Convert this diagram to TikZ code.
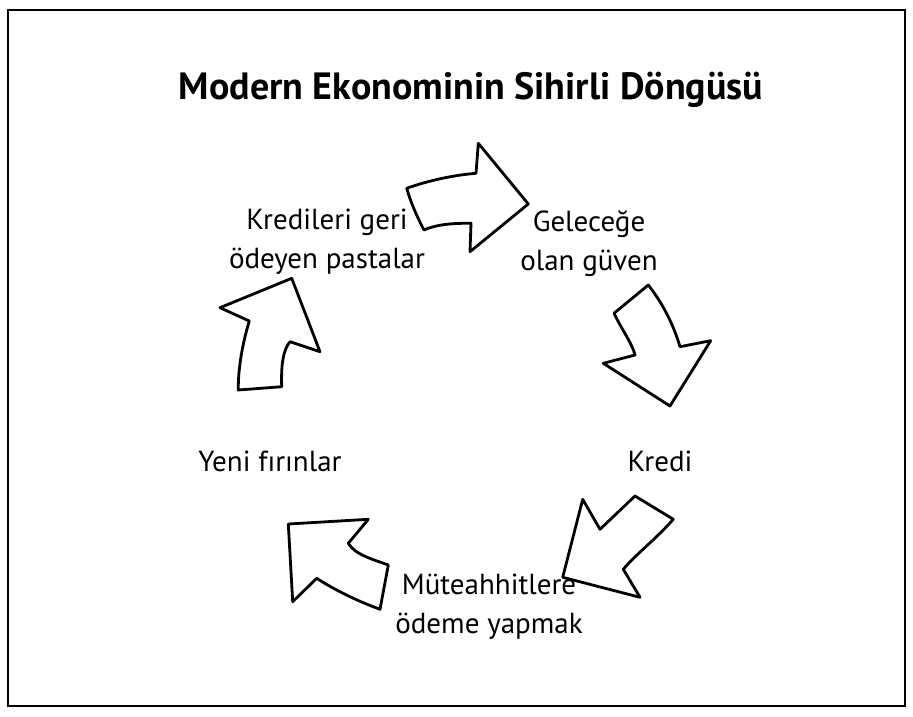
\documentclass[tikz,border=0pt]{standalone}
\usepackage{fontspec}
\setmainfont{PT Sans}
\usepackage{tikz}

\begin{document}
\begin{tikzpicture}[
  x=1pt, y=-1pt,
  every node/.style={font=\fontsize{29}{39}\selectfont},
  lbl/.style={align=center, inner sep=0pt},
  ttl/.style={font=\fontsize{38}{44}\selectfont\bfseries, inner sep=0pt},
  bigarr/.style={draw, line width=2.8pt, line join=round, fill=white}
]
  \useasboundingbox (0,0) rectangle (913,716);
  \draw[line width=2.8pt] (8,10) rectangle (905,706);

  % the five block arrows of the cycle
  \draw[bigarr] (406.7,188.3) .. controls (430,180) and (455,175) .. (476,173.3) -- (478.3,143.3) -- (528.3,204) -- (470,251.7) -- (471,223.3) .. controls (450,223) and (435,225) .. (424,230) .. controls (416,215) and (410,200) .. cycle;
  \draw[bigarr] (648.3,285) -- (614,313.3) .. controls (622,330) and (632,343) .. (635,355) -- (603.3,363.3) -- (670,406) -- (710.7,340.7) -- (680,346.7) .. controls (672,320) and (660,300) .. cycle;
  \draw[bigarr] (582.7,499.3) -- (600,529.3) -- (635,496) -- (673.3,519.3) .. controls (655,540) and (635,555) .. (623.3,569.3) -- (640,597.3) -- (562.7,577.3) -- cycle;
  \draw[bigarr] (288.3,524) -- (368.3,519.3) -- (348.3,543.3) .. controls (355,555) and (375,560) .. (388.3,565) -- (380,609.3) .. controls (355,600) and (335,590) .. (316.7,578.3) -- (292.7,601.7) -- cycle;
  \draw[bigarr] (291.7,278.3) -- (220,307.7) -- (249.3,321) .. controls (242,345) and (238,370) .. (238.3,390) -- (281.7,386.7) .. controls (281,365) and (283,350) .. (290,341.7) -- (320,351.7) -- cycle;

  \node[ttl] (title) at (471,90) {Modern Ekonominin Sihirli Döngüsü};
  \node[lbl] (repay) at (327,242) {Kredileri geri\\ödeyen pastalar};
  \node[lbl] (trust) at (589,244) {Geleceğe\\olan güven};
  \node[lbl] (credit) at (660,461) {Kredi};
  \node[lbl] (bakery) at (270,461) {Yeni fırınlar};
  \node[lbl] (builder) at (489,607) {Müteahhitlere\\ödeme yapmak};
\end{tikzpicture}
\end{document}
